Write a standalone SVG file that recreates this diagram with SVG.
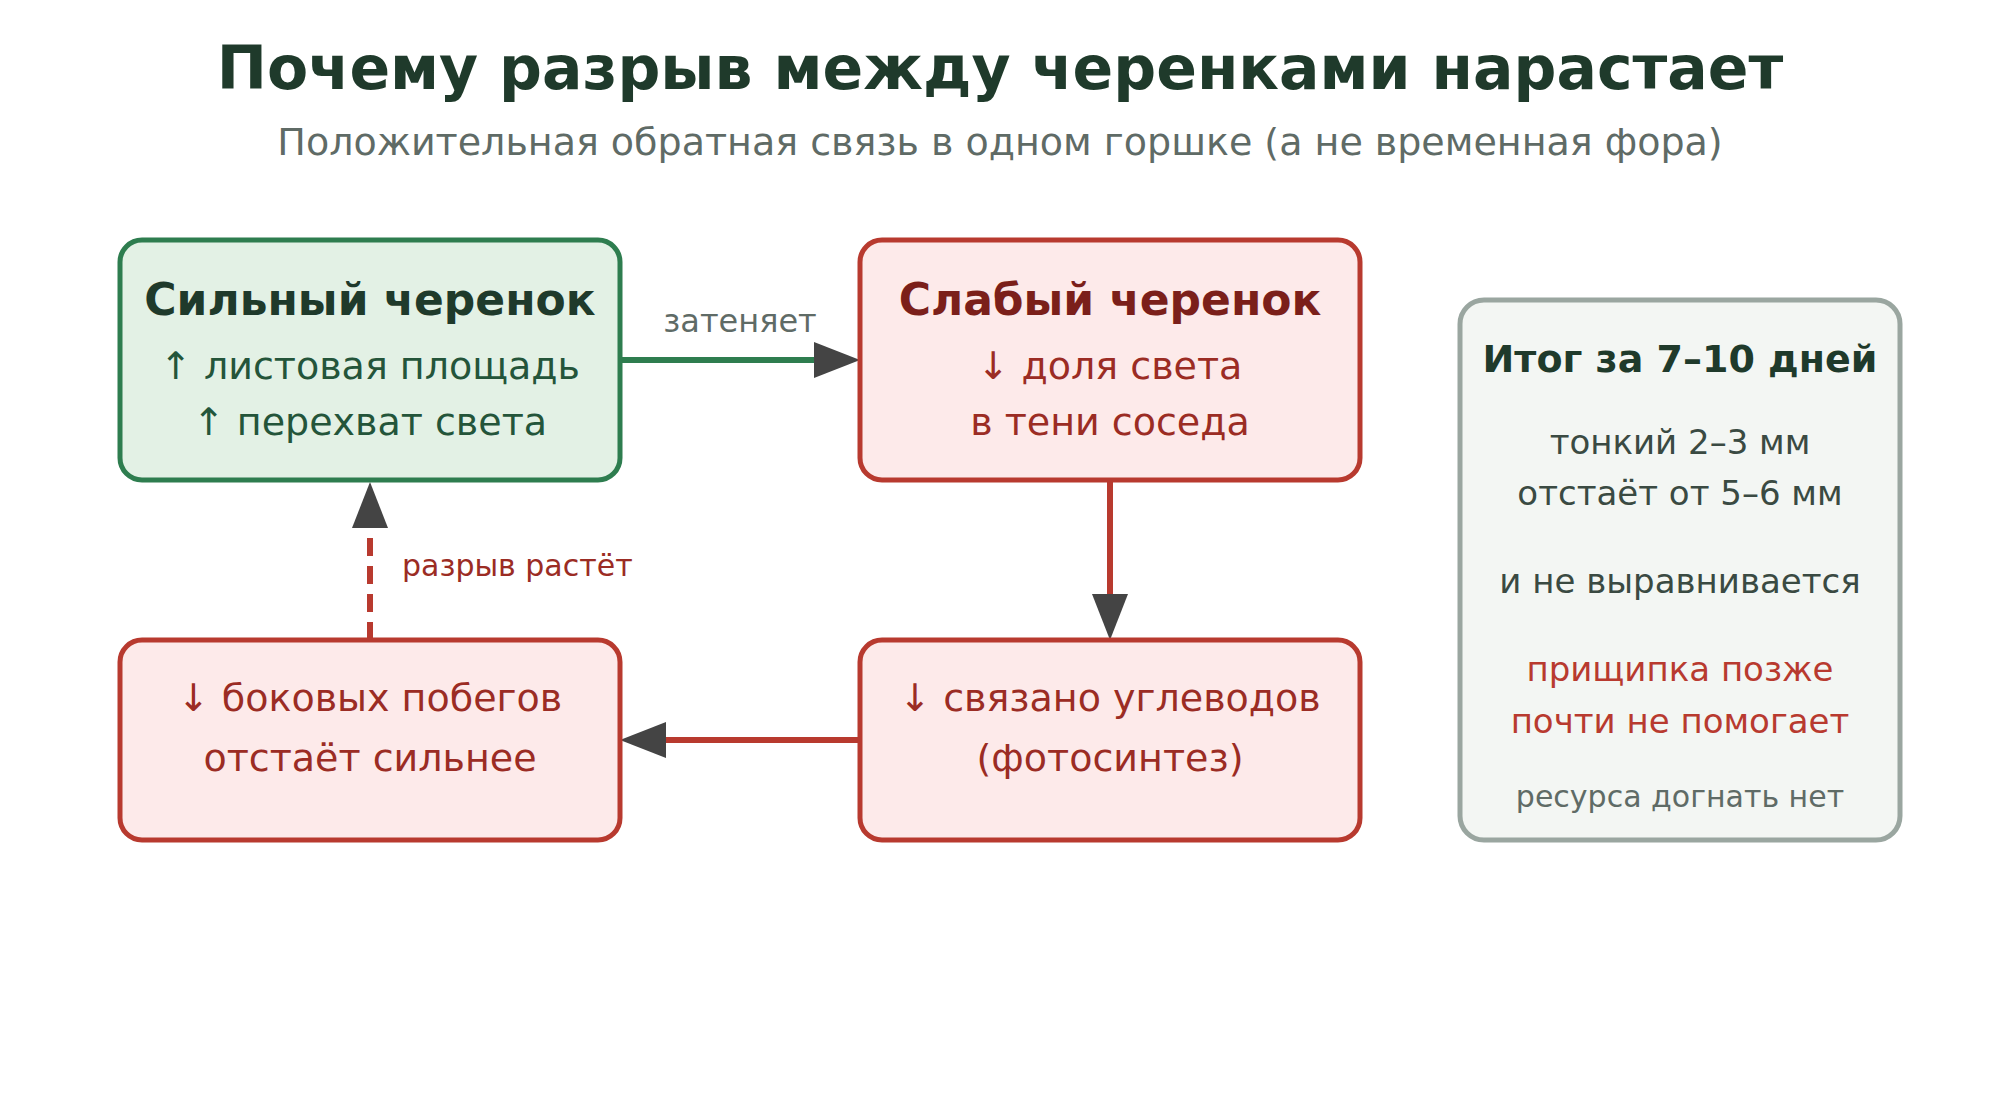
<svg xmlns="http://www.w3.org/2000/svg" width="2000" height="1120" viewBox="0 0 2000 1120">
<defs>
<style>
text{font-family:"DejaVu Sans","Noto Sans",sans-serif;text-anchor:middle}
.title{font-size:60px;font-weight:bold;fill:#1f3a2b}
.sub{font-size:38px;fill:#5f6b66}
.nt{font-size:44px;font-weight:bold}
.nb{font-size:38px}
.green rect{fill:#e3f1e5;stroke:#2e7d4f;stroke-width:5}
.red rect{fill:#fdeaea;stroke:#b83a2f;stroke-width:5}
.gt{fill:#1f3a2b}.gb{fill:#24553a}
.rt{fill:#7b1f1a}.rb{fill:#9b2c24}
.lbl{font-size:32px}
.sum rect{fill:#f3f6f3;stroke:#9aa6a0;stroke-width:5}
.st{font-size:38px;font-weight:bold;fill:#1f3a2b}
.sb{font-size:34px;fill:#3a4a42}
.sr{font-size:34px;fill:#b83a2f}
.sf{font-size:30px;fill:#5f6b66}
</style>
<marker id="ah" markerUnits="userSpaceOnUse" markerWidth="48" markerHeight="38" refX="0" refY="18" orient="auto">
<path d="M0,0 L46,18 L0,36 z" fill="#444"/>
</marker>
</defs>
<rect width="2000" height="1120" fill="#ffffff"/>
<text class="title" x="1000" y="89">Почему разрыв между черенками нарастает</text>
<text class="sub" x="1000" y="155">Положительная обратная связь в одном горшке (а не временная фора)</text>

<g id="connectors">
<line x1="620" y1="360" x2="814" y2="360" stroke="#2e7d4f" stroke-width="6" marker-end="url(#ah)"/>
<text class="lbl" x="740" y="332" fill="#5f6b66">затеняет</text>
<line x1="1110" y1="480" x2="1110" y2="594" stroke="#b83a2f" stroke-width="6" marker-end="url(#ah)"/>
<line x1="860" y1="740" x2="666" y2="740" stroke="#b83a2f" stroke-width="6" marker-end="url(#ah)"/>
<line x1="370" y1="640" x2="370" y2="528" stroke="#b83a2f" stroke-width="6" stroke-dasharray="18 10" marker-end="url(#ah)"/>
<text class="lbl" x="402" y="576" fill="#9b2c24" style="text-anchor:start;font-size:30px">разрыв растёт</text>
</g>

<g id="strong" class="green">
<rect x="120" y="240" width="500" height="240" rx="22"/>
<text class="nt gt" x="370" y="315">Сильный черенок</text>
<text class="nb gb" x="370" y="379">↑ листовая площадь</text>
<text class="nb gb" x="370" y="435">↑ перехват света</text>
</g>

<g id="weak" class="red">
<rect x="860" y="240" width="500" height="240" rx="22"/>
<text class="nt rt" x="1110" y="315">Слабый черенок</text>
<text class="nb rb" x="1110" y="379">↓ доля света</text>
<text class="nb rb" x="1110" y="435">в тени соседа</text>
</g>

<g id="carbs" class="red">
<rect x="860" y="640" width="500" height="200" rx="22"/>
<text class="nb rb" x="1110" y="711">↓ связано углеводов</text>
<text class="nb rb" x="1110" y="771">(фотосинтез)</text>
</g>

<g id="shoots" class="red">
<rect x="120" y="640" width="500" height="200" rx="22"/>
<text class="nb rb" x="370" y="711">↓ боковых побегов</text>
<text class="nb rb" x="370" y="771">отстаёт сильнее</text>
</g>

<g id="summary" class="sum">
<rect x="1460" y="300" width="440" height="540" rx="24"/>
<text class="st" x="1680" y="372">Итог за 7–10 дней</text>
<text class="sb" x="1680" y="454">тонкий 2–3 мм</text>
<text class="sb" x="1680" y="505">отстаёт от 5–6 мм</text>
<text class="sb" x="1680" y="593">и не выравнивается</text>
<text class="sr" x="1680" y="681">прищипка позже</text>
<text class="sr" x="1680" y="733">почти не помогает</text>
<text class="sf" x="1680" y="807">ресурса догнать нет</text>
</g>
</svg>
